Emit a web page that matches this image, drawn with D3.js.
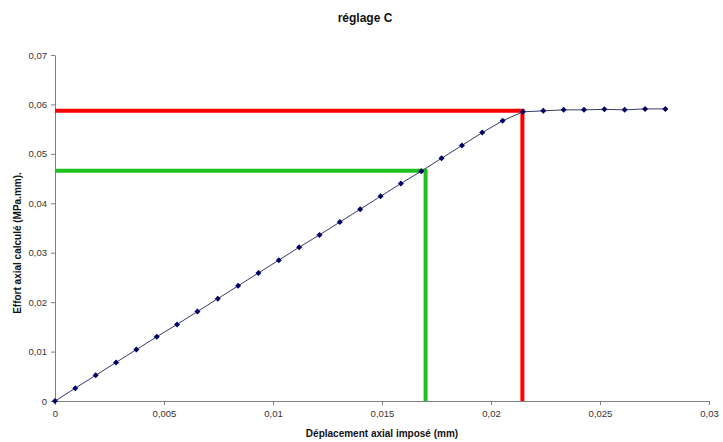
<!DOCTYPE html>
<html><head><meta charset="utf-8">
<script src="https://cdn.jsdelivr.net/npm/d3@7"></script>
<style>body{margin:0;background:#fff}svg{display:block}text{font-family:"Liberation Sans",Arial,sans-serif}</style>
</head><body><svg id="c" width="723" height="442"></svg>
<script>
const title = "réglage C";
const xLabel = "Déplacement axial imposé (mm)";
const yLabel = "Effort axial calculé (MPa.mm).";
const xValues = [0,0.000933,0.001867,0.0028,0.003733,0.004667,0.0056,0.006533,0.007467,0.0084,0.009333,0.010267,0.0112,0.012133,0.013067,0.014,0.014933,0.015867,0.0168,0.017733,0.018667,0.0196,0.020533,0.021467,0.0224,0.023333,0.024267,0.0252,0.026133,0.027067,0.028];
const yValues = [0,0.0026,0.0052,0.0078,0.0104,0.0130,0.0155,0.0181,0.0207,0.0233,0.0259,0.0285,0.0311,0.0336,0.0362,0.0388,0.0414,0.0440,0.0465,0.0491,0.0517,0.0543,0.0567,0.0585,0.0587,0.0589,0.0589,0.0590,0.0589,0.0591,0.0591];
const xTicks = [0,0.005,0.01,0.015,0.02,0.025,0.03];
const yTicks = [0,0.01,0.02,0.03,0.04,0.05,0.06,0.07];
const greenMark = [0.017, 0.0466];
const redMark = [0.02144, 0.0587];

const svg = d3.select("#c");
const m = {l:55, r:14, t:55, b:41};
const W = 723, H = 442;
const x = d3.scaleLinear().domain([0,0.03]).range([m.l, W-m.r]);
const y = d3.scaleLinear().domain([0,0.07]).range([H-m.b, m.t]);
const fmt = d => d === 0 ? "0" : String(+d.toFixed(3)).replace(".", ",");

const xa = svg.append("g").attr("transform",`translate(0,${H-m.b})`)
  .call(d3.axisBottom(x).tickValues(xTicks).tickFormat(fmt).tickSize(4).tickSizeOuter(0));
const ya = svg.append("g").attr("transform",`translate(${m.l},0)`)
  .call(d3.axisLeft(y).tickValues(yTicks).tickFormat(fmt).tickSize(4).tickSizeOuter(0));
[xa,ya].forEach(a=>{
  a.selectAll("path,line").attr("stroke","#808080").attr("stroke-width",1);
  a.selectAll("text").attr("fill","#333").style("font-size","9.5px");
});
xa.selectAll("text").attr("dy","1em").attr("y",6);
ya.selectAll("text").attr("x",-8);

function refLines(p, color){
  const d = `M${x(0)},${y(p[1])}H${x(p[0])}V${y(0)}`;
  svg.append("path").attr("d",d).attr("fill","none").attr("stroke",color)
    .attr("stroke-width",4).attr("stroke-linejoin","miter");
}
refLines(greenMark, "#1ec01e");
refLines(redMark, "#ff0000");

const pts = xValues.map((v,i)=>[v,yValues[i]]);
svg.append("path").datum(pts)
  .attr("d", d3.line().x(d=>x(d[0])).y(d=>y(d[1])))
  .attr("fill","none").attr("stroke","#3a3a6a").attr("stroke-width",1);
svg.append("g").selectAll("path").data(pts).join("path")
  .attr("d", "M0,-3L3,0L0,3L-3,0Z")
  .attr("transform", d=>`translate(${x(d[0])},${y(d[1])})`)
  .attr("fill","#000066");

svg.append("text").attr("x",365).attr("y",22).attr("text-anchor","middle")
  .style("font-size","12px").style("font-weight","bold").attr("fill","#111").text(title);
svg.append("text").attr("x",(m.l+W-m.r)/2).attr("y",437).attr("text-anchor","middle")
  .style("font-size","10px").style("font-weight","bold").attr("fill","#111").text(xLabel);
svg.append("text").attr("transform","translate(21,243) rotate(-90)").attr("text-anchor","middle")
  .style("font-size","10px").style("font-weight","bold").attr("fill","#111").text(yLabel);
</script></body></html>
